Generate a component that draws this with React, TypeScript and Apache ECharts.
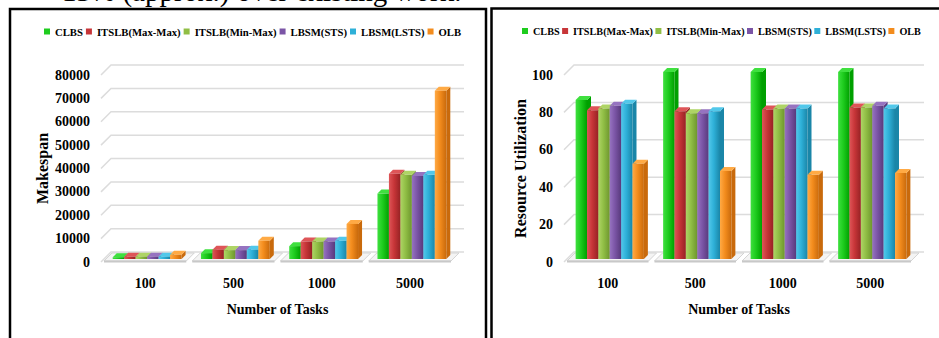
import React, { useEffect, useRef } from "react";
import * as echarts from "echarts";

const categories = ["100", "500", "1000", "5000"];
const seriesNames = ["CLBS", "ITSLB(Max-Max)", "ITSLB(Min-Max)", "LBSM(STS)", "LBSM(LSTS)", "OLB"];

const makespanCLBS = [700, 2500, 5500, 28000];
const makespanMaxMax = [1000, 4000, 7500, 36500];
const makespanMinMax = [1000, 3800, 7500, 36000];
const makespanSTS = [1000, 3800, 7500, 35500];
const makespanLSTS = [1000, 4000, 7800, 36000];
const makespanOLB = [1800, 7800, 15000, 72000];

const utilCLBS = [85, 100, 100, 100];
const utilMaxMax = [79.5, 79, 80, 81];
const utilMinMax = [80.5, 78, 80.5, 81];
const utilSTS = [82, 78, 80.5, 82];
const utilLSTS = [83, 79, 80.5, 80.5];
const utilOLB = [51, 47, 45, 46];

const makespanTicks = [0, 10000, 20000, 30000, 40000, 50000, 60000, 70000, 80000];
const utilTicks = [0, 20, 40, 60, 80, 100];

const makespanData = [makespanCLBS, makespanMaxMax, makespanMinMax, makespanSTS, makespanLSTS, makespanOLB];
const utilData = [utilCLBS, utilMaxMax, utilMinMax, utilSTS, utilLSTS, utilOLB];

// [light, mid, dark]
const palette = [
  ["#3fe03f", "#1ecc1e", "#00a000"],
  ["#de5558", "#c73538", "#962224"],
  ["#aed465", "#90be45", "#6e962e"],
  ["#9673c0", "#7b55a6", "#583a7c"],
  ["#52c8ea", "#2eb0d8", "#1a86a8"],
  ["#ffaa45", "#f38c1d", "#c96a0c"],
];

const FONT = '"Liberation Serif", "Times New Roman", serif';

function barRender(i: number) {
  return (params: any, api: any) => {
    const cat = api.value(0);
    const v = api.value(1);
    const band = api.size([1, 0])[0];
    const groupW = band * 0.78;
    const bw = groupW / 6;
    const top = api.coord([cat, v]);
    const base = api.coord([cat, 0]);
    const x0 = top[0] - groupW / 2 + i * bw + 2;
    const yT = top[1] - 3;
    const yB = base[1] - 3;
    const d = 4;
    const [light, mid, dark] = palette[i];
    return {
      type: "group",
      children: [
        {
          type: "polygon",
          shape: { points: [[x0 + bw, yT], [x0 + bw + d, yT - d], [x0 + bw + d, yB - d], [x0 + bw, yB]] },
          style: { fill: dark },
        },
        {
          type: "polygon",
          shape: { points: [[x0, yT], [x0 + d, yT - d], [x0 + bw + d, yT - d], [x0 + bw, yT]] },
          style: { fill: light },
        },
        {
          type: "rect",
          shape: { x: x0, y: yT, width: bw, height: Math.max(0, yB - yT) },
          style: {
            fill: {
              type: "linear", x: 0, y: 0, x2: 1, y2: 0,
              colorStops: [
                { offset: 0, color: light },
                { offset: 0.45, color: mid },
                { offset: 1, color: dark },
              ],
            },
          },
        },
      ],
    };
  };
}

function floorRender(params: any, api: any) {
  const cat = api.value(0);
  const band = api.size([1, 0])[0];
  const c = api.coord([cat, 0]);
  const xl = c[0] - band / 2 + 3;
  const xr = c[0] + band / 2 - 3;
  const y = c[1] - 1;
  const d = 8;
  return {
    type: "group",
    children: [
      {
        type: "polygon",
        shape: { points: [[xl, y], [xl + d, y - d], [xr + d, y - d], [xr, y]] },
        style: { fill: "#f4f4f4", stroke: "#d4d4d4", lineWidth: 1 },
      },
      {
        type: "line",
        shape: { x1: xl, y1: y + 0.5, x2: xr, y2: y + 0.5 },
        style: { stroke: "#c8c8c8", lineWidth: 2 },
      },
    ],
  };
}

function gridRender(params: any, api: any) {
  const cs = params.coordSys;
  const y = api.coord([0, api.value(1)])[1];
  const x0 = cs.x;
  const x1 = cs.x + cs.width;
  return {
    type: "polyline",
    shape: { points: [[x0, y], [x0 + 10, y - 10], [x1 + 10, y - 10]] },
    style: { stroke: "#dcdcdc", lineWidth: 1.5, fill: "none" },
  };
}

function buildOption() {
  const series: any[] = [];
  [makespanTicks, utilTicks].forEach((ticks, g) => {
    series.push({
      type: "custom",
      name: "grid" + g,
      xAxisIndex: g,
      yAxisIndex: g,
      silent: true,
      z: 1,
      renderItem: gridRender,
      encode: { x: 0, y: 1 },
      data: ticks.map((t) => [0, t]),
    });
    series.push({
      type: "custom",
      name: "floor" + g,
      xAxisIndex: g,
      yAxisIndex: g,
      silent: true,
      z: 1,
      renderItem: floorRender,
      encode: { x: 0, y: 1 },
      data: categories.map((_, k) => [k, 0]),
    });
  });
  [makespanData, utilData].forEach((set, g) => {
    set.forEach((vals, i) => {
      series.push({
        type: "custom",
        name: seriesNames[i],
        xAxisIndex: g,
        yAxisIndex: g,
        z: 2,
        itemStyle: { color: palette[i][1] },
        renderItem: barRender(i),
        encode: { x: 0, y: 1 },
        data: vals.map((v, k) => [k, v]),
      });
    });
  });

  const axisText = { fontFamily: FONT, fontWeight: "bold", fontSize: 14, color: "#000" };
  const legendBase = {
    data: seriesNames,
    top: 21,
    width: 440,
    icon: "rect",
    itemWidth: 6,
    itemHeight: 6,
    itemGap: 3,
    selectedMode: false,
  };

  return {
    animation: false,
    backgroundColor: "#fff",
    legend: [
      {
        ...legendBase,
        left: 39,
        textStyle: { fontFamily: FONT, fontWeight: "bold", fontSize: 10.7, color: "#000" },
      },
      {
        ...legendBase,
        left: 517,
        itemGap: 2.5,
        textStyle: { fontFamily: FONT, fontWeight: "bold", fontSize: 10.2, color: "#000" },
      },
    ],
    grid: [
      { left: 101, top: 75, width: 353, height: 187 },
      { left: 564, top: 75, width: 350, height: 187 },
    ],
    xAxis: [0, 1].map((g) => ({
      type: "category",
      gridIndex: g,
      data: categories,
      name: "Number of Tasks",
      nameLocation: "middle",
      nameGap: 40,
      nameTextStyle: { ...axisText },
      axisLine: { show: false },
      axisTick: { show: false },
      axisLabel: { ...axisText, margin: 14 },
      splitLine: { show: false },
    })),
    yAxis: [
      {
        type: "value",
        gridIndex: 0,
        min: 0,
        max: 80000,
        interval: 10000,
        name: "Makespan",
        nameLocation: "middle",
        nameGap: 51,
        nameTextStyle: { ...axisText, fontSize: 16 },
        axisLine: { show: false },
        axisTick: { show: false },
        axisLabel: { ...axisText, margin: 11, formatter: (v: number) => String(v) },
        splitLine: { show: false },
      },
      {
        type: "value",
        gridIndex: 1,
        min: 0,
        max: 100,
        interval: 20,
        name: "Resource Utilization",
        nameLocation: "middle",
        nameGap: 33,
        nameTextStyle: { ...axisText, fontSize: 16 },
        axisLine: { show: false },
        axisTick: { show: false },
        axisLabel: { ...axisText, margin: 11, formatter: (v: number) => String(v) },
        splitLine: { show: false },
      },
    ],
    graphic: [
      {
        type: "text",
        left: 62,
        top: -24,
        silent: true,
        style: { text: "13% (approx.) over existing work.", font: '29px "Liberation Serif"', fill: "#000" },
      },
      {
        type: "rect",
        silent: true,
        shape: { x: 10, y: 9, width: 476, height: 360 },
        style: { fill: "none", stroke: "#000", lineWidth: 2.5 },
      },
      {
        type: "rect",
        silent: true,
        shape: { x: 491.5, y: 8.5, width: 480, height: 360 },
        style: { fill: "none", stroke: "#000", lineWidth: 2.5 },
      },
    ],
    series,
  };
}

export default function App() {
  const ref = useRef<HTMLDivElement>(null);
  useEffect(() => {
    if (!ref.current) return;
    const chart = echarts.init(ref.current, undefined, { renderer: "svg" });
    chart.setOption(buildOption() as any);
    return () => chart.dispose();
  }, []);
  return (
    <div
      ref={ref}
      style={{ position: "fixed", left: 0, top: 0, width: 939, height: 338, background: "#fff" }}
    />
  );
}
